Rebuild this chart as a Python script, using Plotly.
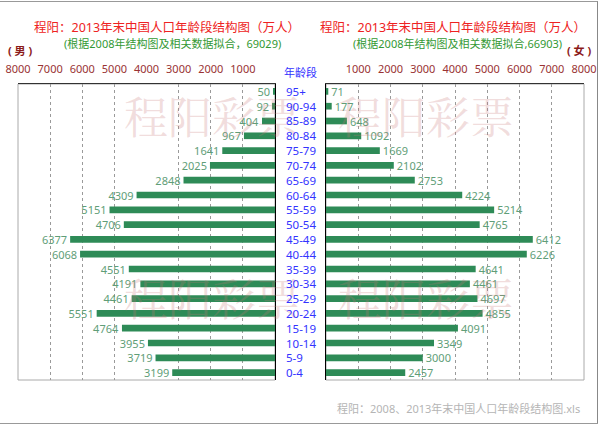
import plotly.graph_objects as go

ages = ["95+", "90-94", "85-89", "80-84", "75-79", "70-74", "65-69", "60-64", "55-59", "50-54",
        "45-49", "40-44", "35-39", "30-34", "25-29", "20-24", "15-19", "10-14", "5-9", "0-4"]
male = [50, 92, 404, 967, 1641, 2025, 2848, 4309, 5151, 4706,
        6377, 6068, 4551, 4191, 4461, 5551, 4764, 3955, 3719, 3199]
female = [71, 177, 648, 1092, 1669, 2102, 2753, 4224, 5214, 4765,
          6412, 6226, 4641, 4461, 4697, 4855, 4091, 3349, 3000, 2457]
tick_vals = [1000, 2000, 3000, 4000, 5000, 6000, 7000, 8000]
tick_text = [str(v) for v in tick_vals]
grid_left = [1000, 2000, 3000, 5000, 6000, 7000]
grid_right = [1000, 2000, 3000, 4000, 5000, 6000, 7000]

W, H = 600, 426
def px(x): return x / W
def py(y): return 1 - y / H

FONT = "Tahoma, 'Noto Sans', 'Noto Sans CJK SC', sans-serif"
BAR = "#2e8b57"
TXT = "#5f9e78"
TICK = "#993333"

fig = go.Figure()
fig.add_trace(go.Bar(x=male, y=ages, orientation="h", xaxis="x", yaxis="y",
                     marker=dict(color=BAR, line=dict(width=0)), width=0.45,
                     text=[str(v) for v in male], textposition="outside", constraintext="none",
                     textfont=dict(color=TXT, size=11, family=FONT), cliponaxis=False,
                     showlegend=False, hoverinfo="x+y"))
fig.add_trace(go.Bar(x=female, y=ages, orientation="h", xaxis="x2", yaxis="y2",
                     marker=dict(color=BAR, line=dict(width=0)), width=0.45,
                     text=[str(v) for v in female], textposition="outside", constraintext="none",
                     textfont=dict(color=TXT, size=11, family=FONT), cliponaxis=False,
                     showlegend=False, hoverinfo="x+y"))

ydom = [py(380), py(84)]
axis_common = dict(side="top", tickvals=tick_vals, ticktext=tick_text, showgrid=False,
                   tickfont=dict(color=TICK, size=11, family=FONT), ticks="",
                   ticklabelstandoff=6, showline=True, linecolor="#333", linewidth=1,
                   zeroline=False, fixedrange=True, automargin=False,
                   ticklabeloverflow="allow")
grid_common = dict(showgrid=True, gridcolor="#9a9a9a", griddash="3px,3px", gridwidth=1, ticks="")
fig.update_layout(
    width=W, height=H, margin=dict(l=0, r=0, t=0, b=0, autoexpand=False),
    paper_bgcolor="white", plot_bgcolor="rgba(0,0,0,0)",
    font=dict(family=FONT),
    xaxis=dict(domain=[px(18), px(275)], range=[8000, 0], anchor="y",
               minor=dict(tickvals=grid_left, **grid_common), **axis_common),
    xaxis2=dict(domain=[px(326), px(584)], range=[0, 8000], anchor="y2",
                minor=dict(tickvals=grid_right, **grid_common), **axis_common),
    yaxis=dict(domain=ydom, anchor="x", side="right", type="category",
               categoryorder="array", categoryarray=ages, range=[len(ages) - 0.5, -0.5],
               showticklabels=False, showgrid=False, showline=True, linecolor="black",
               linewidth=1, zeroline=False, ticks="", fixedrange=True, automargin=False),
    yaxis2=dict(domain=ydom, anchor="x2", side="left", type="category",
                categoryorder="array", categoryarray=ages, range=[len(ages) - 0.5, -0.5],
                showticklabels=False, showgrid=False, showline=True, linecolor="black",
                linewidth=1, zeroline=False, ticks="", fixedrange=True, automargin=False),
)

shapes = [
    dict(type="rect", xref="paper", yref="paper", x0=px(18), x1=px(275), y0=py(380), y1=py(84),
         line=dict(color="#aaaaaa", width=1), layer="below"),
    dict(type="rect", xref="paper", yref="paper", x0=px(326), x1=px(584), y0=py(380), y1=py(84),
         line=dict(color="#aaaaaa", width=1), layer="below"),
    dict(type="line", xref="paper", yref="paper", x0=px(0), x1=px(598), y0=py(1.5), y1=py(1.5),
         line=dict(color="#999999", width=1), layer="below"),
    dict(type="line", xref="paper", yref="paper", x0=px(597.5), x1=px(597.5), y0=py(1.5), y1=py(423.5),
         line=dict(color="#888888", width=1), layer="below"),
    dict(type="line", xref="paper", yref="paper", x0=px(0), x1=px(598), y0=py(423.5), y1=py(423.5),
         line=dict(color="#999999", width=1), layer="below"),
]
fig.update_layout(shapes=shapes)

ann = []
# watermarks
for (cx, cy) in [(212, 115), (426, 115), (212, 297), (426, 297)]:
    ann.append(dict(text="程阳彩票", x=px(cx), y=py(cy), xref="paper", yref="paper",
                    showarrow=False, xanchor="center", yanchor="middle",
                    font=dict(size=44, color="rgba(200,120,120,0.25)",
                              family="'Noto Serif CJK SC', 'Noto Sans CJK SC', serif")))
# titles
title = "程阳：2013年末中国人口年龄段结构图（万人）"
ann.append(dict(text=title, x=px(167), y=py(27), xref="paper", yref="paper", showarrow=False,
                xanchor="center", yanchor="middle", font=dict(size=12.5, color="#ee2222", family=FONT)))
ann.append(dict(text=title, x=px(453), y=py(27), xref="paper", yref="paper", showarrow=False,
                xanchor="center", yanchor="middle", font=dict(size=12.5, color="#ee2222", family=FONT)))
ann.append(dict(text="(根据2008年结构图及相关数据拟合，69029)", x=px(172), y=py(43), xref="paper",
                yref="paper", showarrow=False, xanchor="center", yanchor="middle",
                font=dict(size=11, color="#339933", family=FONT)))
ann.append(dict(text="(根据2008年结构图及相关数据拟合,66903)", x=px(457), y=py(43), xref="paper",
                yref="paper", showarrow=False, xanchor="center", yanchor="middle",
                font=dict(size=11, color="#339933", family=FONT)))
ann.append(dict(text="<b>( 男 )</b>", x=px(20), y=py(51), xref="paper", yref="paper", showarrow=False,
                xanchor="center", yanchor="middle", font=dict(size=11, color="#8b1a1a", family=FONT)))
ann.append(dict(text="<b>( 女 )</b>", x=px(579), y=py(50), xref="paper", yref="paper", showarrow=False,
                xanchor="center", yanchor="middle", font=dict(size=11, color="#8b1a1a", family=FONT)))
ann.append(dict(text="年龄段", x=px(300), y=py(72), xref="paper", yref="paper", showarrow=False,
                xanchor="center", yanchor="middle", font=dict(size=11, color="#3333ff", family=FONT)))
for a in ages:
    ann.append(dict(text=a, x=px(284), y=a, xref="paper", yref="y", showarrow=False,
                    xanchor="left", yanchor="middle", font=dict(size=11.5, color="#3333ff", family=FONT)))
ann.append(dict(text="程阳：2008、2013年末中国人口年龄段结构图.xls", x=px(582), y=py(408), xref="paper",
                yref="paper", showarrow=False, xanchor="right", yanchor="middle",
                font=dict(size=11, color="#b5b5b5", family=FONT)))
fig.update_layout(annotations=ann)

fig.write_html("out.html", config={"displayModeBar": False},
               post_script="document.body.style.margin='0';")
